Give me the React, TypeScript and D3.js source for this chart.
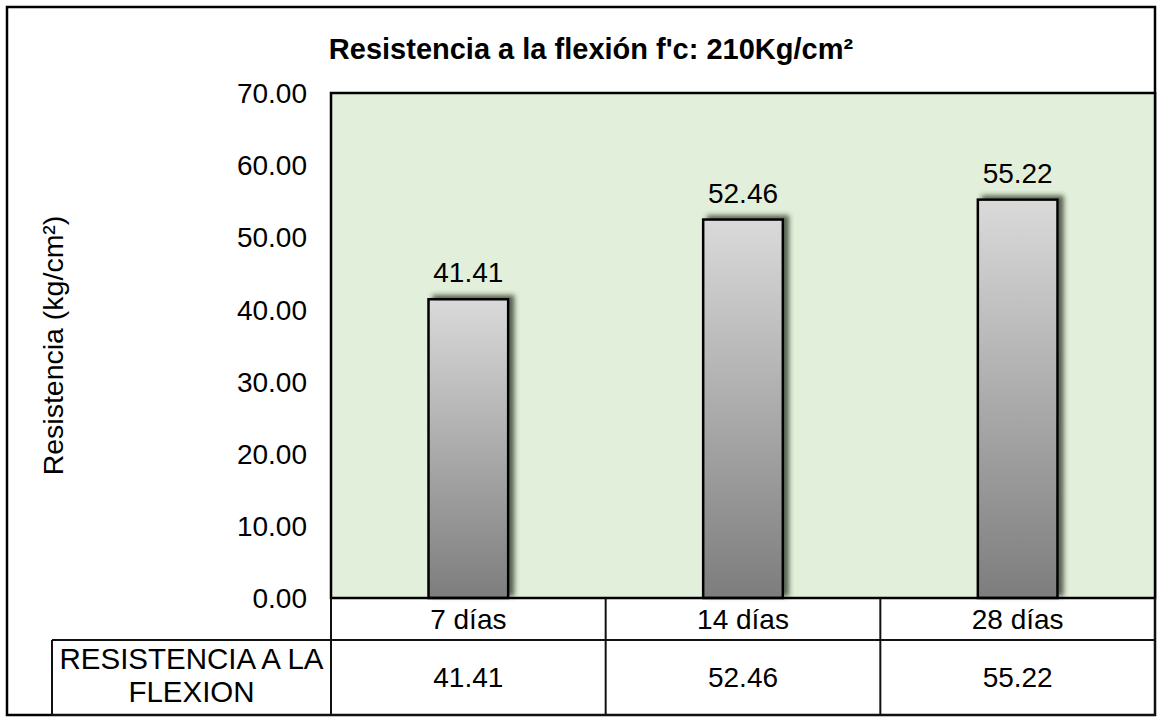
import React from "react";
import * as d3 from "d3";

const categories: string[] = ["7 días", "14 días", "28 días"];
const values: number[] = [41.41, 52.46, 55.22];
const yTicks: number[] = [0, 10, 20, 30, 40, 50, 60, 70];
const seriesName: string[] = ["RESISTENCIA A LA", "FLEXION"];
const title = "Resistencia a la flexión f'c: 210Kg/cm²";
const yTitle = "Resistencia (kg/cm²)";

const W = 1176;
const H = 726;
const plot = { left: 331, right: 1155, top: 93, bottom: 598 };
const table = { headerBottom: 640, bottom: 715, labelLeft: 52 };
const font = "'Liberation Sans', Arial, sans-serif";

export default function App() {
  const x = d3
    .scaleBand<string>()
    .domain(categories)
    .range([plot.left, plot.right])
    .padding(0);
  const y = d3.scaleLinear().domain([0, 70]).range([plot.bottom, plot.top]);
  const barW = x.bandwidth() * 0.29;
  const fmt = d3.format(".2f");

  const columnEdges = [plot.left, ...categories.map((c) => (x(c) as number) + x.bandwidth())];

  return (
    <svg
      width={W}
      height={H}
      style={{ position: "absolute", left: 0, top: 0, background: "#fff" }}
      fontFamily={font}
    >
      <defs>
        <linearGradient id="barFill" x1="0" y1="0" x2="0" y2="1">
          <stop offset="0" stopColor="#dadada" />
          <stop offset="1" stopColor="#7d7d7d" />
        </linearGradient>
        <filter id="barShadow" x="-30%" y="-30%" width="160%" height="160%">
          <feDropShadow dx="5" dy="-3" stdDeviation="2.5" floodColor="#2a3320" floodOpacity="0.75" />
        </filter>
      </defs>

      {/* outer frame */}
      <rect x={7} y={7} width={1148} height={708} fill="#fff" stroke="#000" strokeWidth={2.5} />

      {/* title */}
      <text x={591} y={59} textAnchor="middle" fontSize={29} fontWeight="bold" fill="#000">
        {title}
      </text>

      {/* plot area */}
      <rect
        x={plot.left}
        y={plot.top}
        width={plot.right - plot.left}
        height={plot.bottom - plot.top}
        fill="#e2efda"
      />

      {/* bars */}
      {categories.map((c, i) => {
        const cx = (x(c) as number) + x.bandwidth() / 2;
        const top = y(values[i]);
        return (
          <g key={c}>
            <rect
              x={cx - barW / 2}
              y={top}
              width={barW}
              height={plot.bottom - top}
              fill="url(#barFill)"
              stroke="#000"
              strokeWidth={2.5}
              filter="url(#barShadow)"
            />
            <text x={cx} y={top - 17} textAnchor="middle" fontSize={28} fill="#000">
              {fmt(values[i])}
            </text>
          </g>
        );
      })}

      <rect
        x={plot.left}
        y={plot.top}
        width={plot.right - plot.left}
        height={plot.bottom - plot.top}
        fill="none"
        stroke="#000"
        strokeWidth={2.5}
      />

      {/* y ticks */}
      {yTicks.map((t) => (
        <text key={t} x={307} y={y(t)} dy="0.36em" textAnchor="end" fontSize={28} fill="#000">
          {fmt(t)}
        </text>
      ))}

      {/* y title */}
      <text
        transform={`translate(63,${(plot.top + plot.bottom) / 2}) rotate(-90)`}
        textAnchor="middle"
        fontSize={28.5}
        fill="#000"
      >
        {yTitle}
      </text>

      {/* data table */}
      <g stroke="#111" strokeWidth={2}>
        <line x1={table.labelLeft} x2={plot.right} y1={table.headerBottom} y2={table.headerBottom} />
        <line x1={table.labelLeft} x2={plot.right} y1={table.bottom} y2={table.bottom} />
        <line x1={table.labelLeft} x2={table.labelLeft} y1={table.headerBottom} y2={table.bottom} />
        {columnEdges.map((e, i) => (
          <line key={i} x1={e} x2={e} y1={plot.bottom} y2={table.bottom} />
        ))}
      </g>
      {categories.map((c, i) => {
        const cx = (x(c) as number) + x.bandwidth() / 2;
        return (
          <g key={c}>
            <text x={cx} y={629} textAnchor="middle" fontSize={28} fill="#000">
              {c}
            </text>
            <text x={cx} y={687} textAnchor="middle" fontSize={28} fill="#000">
              {fmt(values[i])}
            </text>
          </g>
        );
      })}
      {seriesName.map((s, i) => (
        <text
          key={s}
          x={(table.labelLeft + plot.left) / 2}
          y={669 + i * 33}
          textAnchor="middle"
          fontSize={29.5}
          fill="#000"
        >
          {s}
        </text>
      ))}
    </svg>
  );
}
